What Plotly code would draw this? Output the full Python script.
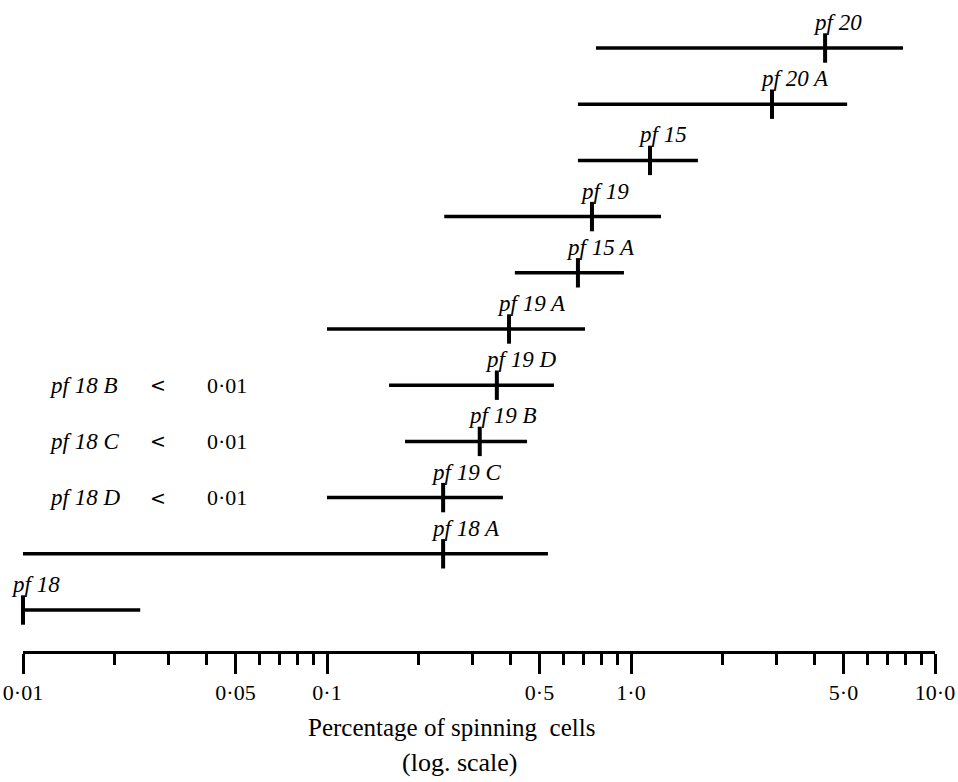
import math
import plotly.graph_objects as go

# ---------------- data ----------------
strains = ["pf 20", "pf 20 A", "pf 15", "pf 19", "pf 15 A", "pf 19 A",
           "pf 19 D", "pf 19 B", "pf 19 C", "pf 18 A", "pf 18"]
point = [4.35, 2.91, 1.155, 0.744, 0.669, 0.397, 0.362, 0.318, 0.241, 0.241, 0.01]
low = [0.767, 0.669, 0.669, 0.243, 0.415, 0.1, 0.160, 0.1806, 0.1, 0.01, 0.01]
high = [7.85, 5.14, 1.66, 1.255, 0.948, 0.706, 0.558, 0.455, 0.379, 0.533, 0.0243]

below_names = ["pf 18 B", "pf 18 C", "pf 18 D"]
below_rows = ["pf 19 D", "pf 19 B", "pf 19 C"]   # rows they share a level with
below_value = "0·01"

tick_vals = [0.01, 0.05, 0.1, 0.5, 1.0, 5.0, 10.0]
tick_text = ["0·01", "0·05", "0·1", "0·5", "1·0", "5·0", "10·0"]
minor_vals = [0.02, 0.03, 0.04, 0.06, 0.07, 0.08, 0.09,
              0.2, 0.3, 0.4, 0.6, 0.7, 0.8, 0.9,
              2.0, 3.0, 4.0, 6.0, 7.0, 8.0, 9.0]

x_title = "Percentage of spinning  cells"
x_subtitle = "(log. scale)"

# ---------------- figure ----------------
n = len(strains)
rows = [n - 1 - i for i in range(n)]  # top row highest
FONT = "Liberation Serif"

W, H = 958, 782
AX_L, AX_R, AX_Y, TOP = 23, 935, 651, 10
L, R, T, B = AX_L, W - AX_R, TOP, H - AX_Y
pw, ph = W - L - R, H - T - B


def px_x(px):
    return (px - L) / pw


def px_y(py):
    return (AX_Y - py) / ph


fig = go.Figure()

lx, ly = [], []
for lo, hi, r in zip(low, high, rows):
    lx += [lo, hi, None]
    ly += [r, r, None]
fig.add_trace(go.Scatter(x=lx, y=ly, mode="lines",
                         line=dict(color="black", width=3.5),
                         cliponaxis=False,
                         hoverinfo="skip", showlegend=False))
fig.add_trace(go.Scatter(x=point, y=rows, mode="markers",
                         marker=dict(symbol="line-ns", size=21,
                                     line=dict(width=4, color="black")),
                         cliponaxis=False,
                         text=strains, showlegend=False))

ann = []
for name, p, r in zip(strains, point, rows):
    ann.append(dict(x=math.log10(p), y=r, xref="x", yref="y", text=name,
                    showarrow=False, xanchor="left", yanchor="bottom",
                    xshift=-14, yshift=11,
                    font=dict(family=FONT, size=23, color="black", style="italic")))

for name, rowname in zip(below_names, below_rows):
    r = rows[strains.index(rowname)]
    ann.append(dict(x=px_x(47), y=r, xref="paper", yref="y", text=name,
                    showarrow=False, xanchor="left", yanchor="middle",
                    font=dict(family=FONT, size=23, color="black", style="italic")))
    ann.append(dict(x=px_x(158), y=r, xref="paper", yref="y", text="<",
                    showarrow=False, xanchor="center", yanchor="middle",
                    font=dict(family="DejaVu Sans", size=19, color="black")))
    ann.append(dict(x=px_x(205), y=r, xref="paper", yref="y", text=below_value,
                    showarrow=False, xanchor="left", yanchor="middle",
                    font=dict(family=FONT, size=22, color="black")))

ann.append(dict(x=px_x(451), y=px_y(727), xref="paper", yref="paper", text=x_title,
                showarrow=False, xanchor="center", yanchor="middle",
                font=dict(family=FONT, size=25, color="black")))
ann.append(dict(x=px_x(460), y=px_y(762), xref="paper", yref="paper", text=x_subtitle,
                showarrow=False, xanchor="center", yanchor="middle",
                font=dict(family=FONT, size=26, color="black")))

row_px0, row_gap = 610.0, 56.2
y_lo = (row_px0 - AX_Y) / row_gap
y_hi = (row_px0 - TOP) / row_gap

fig.update_layout(
    width=W, height=H,
    margin=dict(l=L, r=R, t=T, b=B, pad=0, autoexpand=False),
    paper_bgcolor="white", plot_bgcolor="white",
    annotations=ann,
    xaxis=dict(type="log", range=[-2, 1], showgrid=False, zeroline=False,
               automargin=False, ticklabeloverflow="allow",
               showline=True, linecolor="black", linewidth=3,
               ticks="outside", ticklen=20, tickwidth=3, tickcolor="black",
               tickmode="array", tickvals=tick_vals, ticktext=tick_text,
               tickfont=dict(family=FONT, size=22, color="black"),
               minor=dict(tickmode="array", tickvals=minor_vals, ticks="outside",
                          ticklen=11, tickwidth=3, tickcolor="black", showgrid=False)),
    yaxis=dict(range=[y_lo, y_hi], visible=False, showgrid=False, zeroline=False,
               automargin=False),
)

fig.write_html("out.html",
               config={"displayModeBar": False},
               post_script="document.body.style.margin='0';document.body.style.overflow='hidden';")
